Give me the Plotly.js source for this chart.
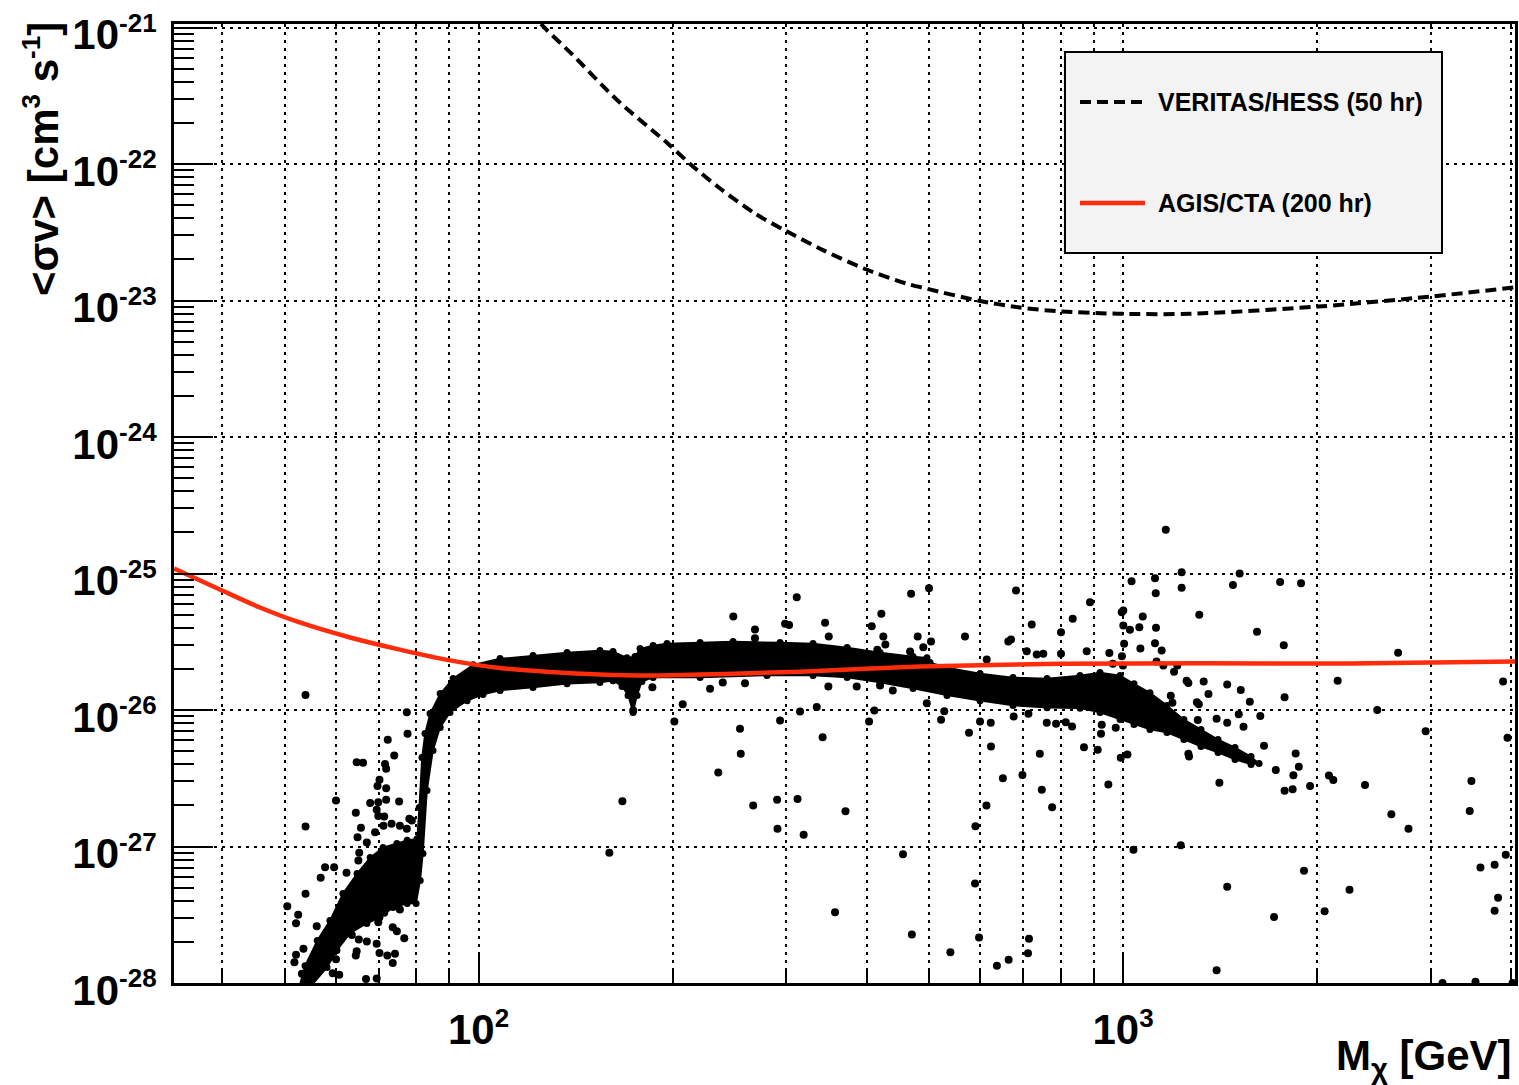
<!DOCTYPE html>
<html>
<head>
<meta charset="utf-8">
<script src="https://cdn.plot.ly/plotly-3.0.1.min.js"></script>
<style>
  html, body { margin: 0; padding: 0; background: #ffffff; }
  #chart { width: 1519px; height: 1085px; }
</style>
</head>
<body>
<div id="chart"></div>
<script>
// VERITAS/HESS 50 hr sensitivity (dashed black)
const vhMass  = [120.0, 126.4, 139.5, 164.4, 196.8, 213.6, 235.7, 268.5, 299, 343.7, 397, 461.6, 496.4, 595.3, 692, 790, 984, 1275, 2007, 3006, 4057];
const vhSigma = [1.33e-21, 1.005e-21, 6.41e-22, 2.92e-22, 1.41e-22, 9.9e-23, 6.76e-23, 4.34e-23, 3.26e-23, 2.32e-23, 1.71e-23, 1.33e-23, 1.22e-23, 1.0e-23, 8.89e-24, 8.36e-24, 8.0e-24, 8.0e-24, 9.03e-24, 1.07e-23, 1.25e-23];

// AGIS/CTA 200 hr sensitivity (solid red)
const agMass  = [33.7, 40.0, 45.8, 52.8, 63.2, 75.5, 90.3, 108.0, 129.1, 154.3, 184.6, 220.7, 263.8, 315.4, 484.2, 798.5, 1316.6, 2250, 4057];
const agSigma = [1.089e-25, 7.5e-26, 5.64e-26, 4.38e-26, 3.40e-26, 2.77e-26, 2.31e-26, 2.03e-26, 1.90e-26, 1.82e-26, 1.79e-26, 1.82e-26, 1.86e-26, 1.91e-26, 2.08e-26, 2.18e-26, 2.20e-26, 2.19e-26, 2.27e-26];

// Outline of the densely populated model region (lower edge left to right, then upper edge back)
const bandMass = [52.8, 54.8, 58.2, 60.3, 63.2, 67.1, 70.3, 73.7, 77.5, 80.0, 81.2, 82.0, 83.2, 85.0, 87.2, 90.3, 96.0, 101.6, 108.0, 121.5,
  137.2, 154.3, 161.7, 167.0, 170.6, 173.7, 176.2, 179.3, 186.6, 220.7, 280.3, 330.4, 373.2, 419.8, 472.3, 533.2, 600, 675.1, 762.4, 857.6,
  921.1, 989.5, 1040, 1101, 1170, 1243, 1321, 1404, 1492, 1580, 1626,
  1580, 1492, 1404, 1321, 1243, 1170, 1101, 1040, 989.5, 921.1, 857.6, 762.4, 675.1, 600, 533.2, 501.8, 496.4, 472.3, 419.8, 373.2,
  330.4, 293.7, 248.3, 220.7, 196.1, 186.6, 178.1, 174.9, 169.9, 161.7, 154.3, 137.2, 121.5, 108.0, 98.1, 91.3, 87.2, 84.1, 82.6, 81.7,
  80.9, 80.3, 77.5, 74.7, 71.1, 67.9, 64.8, 61.6, 58.8, 56.2, 53.8, 52.5];
const bandSigma = [8.8e-29, 9.3e-29, 1.30e-28, 1.73e-28, 2.31e-28, 2.73e-28, 3.02e-28, 3.57e-28, 3.82e-28, 3.82e-28, 5.64e-28, 8.89e-28, 2.57e-27, 5.05e-27, 7.44e-27, 9.59e-27, 1.17e-26, 1.30e-26, 1.39e-26, 1.46e-26,
  1.56e-26, 1.59e-26, 1.64e-26, 1.49e-26, 1.28e-26, 9.59e-27, 1.28e-26, 1.62e-26, 1.73e-26, 1.73e-26, 1.79e-26, 1.79e-26, 1.73e-26, 1.59e-26, 1.44e-26, 1.28e-26, 1.17e-26, 1.08e-26, 1.04e-26, 1.03e-26,
  9.59e-27, 8.52e-27, 7.83e-27, 7.20e-27, 6.84e-27, 6.08e-27, 5.40e-27, 4.88e-27, 4.34e-27, 3.99e-27, 4.06e-27,
  4.56e-27, 5.31e-27, 6.08e-27, 7.20e-27, 8.52e-27, 1.08e-26, 1.34e-26, 1.56e-26, 1.79e-26, 1.88e-26, 1.79e-26, 1.70e-26, 1.73e-26, 1.85e-26, 2.05e-26, 2.23e-26, 2.42e-26, 2.47e-26, 2.64e-26, 2.87e-26,
  3.07e-26, 3.12e-26, 3.18e-26, 3.12e-26, 3.07e-26, 2.97e-26, 2.82e-26, 2.47e-26, 2.42e-26, 2.68e-26, 2.73e-26, 2.64e-26, 2.51e-26, 2.38e-26, 2.15e-26, 1.70e-26, 1.32e-26, 9.42e-27, 6.73e-27, 4.49e-27,
  1.93e-27, 1.14e-27, 1.11e-27, 1.05e-27, 9.84e-28, 8.30e-28, 6.34e-28, 4.53e-28, 2.87e-28, 2.05e-28, 1.34e-28, 8.8e-29];

// Individual model points outside the dense region
const pointMass = [53.9, 77.4, 77.6, 72.3, 74.0, 64.7, 66.2, 71.6, 71.9, 70.2, 69.7, 71.9, 60.1, 67.9, 69.9, 71.9, 75.3, 64.5, 69.5, 69.9,
  71.4, 53.9, 65.7, 64.9, 69.1, 71.2, 73.3, 75.5, 77.4, 78.8, 67.1, 65.3, 65.1, 57.8, 59.7, 56.9, 62.4, 53.9, 50.5, 52.5,
  52.1, 56.1, 69.5, 71.4, 69.9, 73.6, 74.7, 76.7, 63.6, 65.2, 67.1, 69.5, 70.2, 72.2, 74.2, 73.6, 64.7, 64.5, 60.1, 52.1,
  51.8, 53.5, 59.4, 60.8, 66.9, 69.5, 53.2, 78.1, 75.5, 167.2, 159.6, 186.1, 207.4, 201.3, 228.7, 239.3, 248.5, 254.5, 255.2, 259.1,
  268.5, 268.5, 293.7, 299.0, 303.3, 311.7, 344.9, 349.5, 421.7, 407.5, 424.7, 427.8, 415.7, 469.0, 500.0, 480.2, 503.6, 489.9, 467.3, 568.6,
  614.5, 663.7, 670.1, 682.3, 721.7, 709.0, 734.7, 752.2, 801.3, 801.3, 835.5, 878.3, 888.8, 952.3, 995.5, 1001, 1001, 1025, 1031, 1060,
  1073, 1121, 1124, 1125, 1121, 1148, 1233, 1233, 1313, 1255, 1302, 1263, 1165, 1517, 1481, 1753, 1889, 1614, 1776, 2672,
  1004, 1064, 964.3, 996, 1000, 1127, 1155, 1214, 1200, 1263, 1334, 1357, 1451, 1523, 1573, 1633, 1186, 1193, 1311, 1306,
  1397, 1451, 1512, 1538, 1781, 2153, 2480, 2948, 3888, 3950, 1655, 1726, 1853, 1874, 1838, 1781, 1833, 1951, 2087, 2120,
  2374, 2608, 2773, 3472, 3451, 1266, 1411, 1038, 1229, 1451, 1715, 1909, 2055, 2246, 3586, 3772, 3925, 3819, 3772, 1397,
  3131, 3523, 4022, 235.5, 266.8, 290.6, 291.0, 312.6, 319.5, 315.4, 334.8, 341.9, 371.0, 357.4, 349.0, 386.2, 419.8, 439.3, 411.3, 403.6,
  455.6, 470.3, 539.7, 496.1, 522, 528, 576.8, 600, 623.4, 624.0, 651.0, 676.6, 698.2, 713.2, 742.8, 748.1, 761.5, 787.3, 815.0, 833.6,
  869.8, 913.5, 926.7, 924.4, 974.3, 948.9, 992.0, 1016, 590.2, 589.4, 597.9, 613.9, 637.3, 664.5, 776.2, 714.6, 712.1, 173.8];
const pointSigma = [1.29e-26, 9.64e-27, 6.69e-27, 6.05e-27, 4.64e-27, 4.15e-27, 4.10e-27, 4.03e-27, 3.71e-27, 3.08e-27, 2.77e-27, 2.67e-27, 2.17e-27, 2.08e-27, 2.11e-27, 2.20e-27, 2.14e-27, 1.77e-27, 1.86e-27, 1.67e-27,
  1.66e-27, 1.40e-27, 1.37e-27, 1.17e-27, 1.27e-27, 1.42e-27, 1.47e-27, 1.42e-27, 1.35e-27, 1.55e-27, 1.07e-27, 8.99e-28, 7.89e-28, 7.05e-28, 7.05e-28, 5.90e-28, 6.42e-28, 4.50e-28, 3.65e-28, 3.16e-28,
  2.74e-28, 2.61e-28, 3.80e-28, 3.27e-28, 2.79e-28, 2.56e-28, 2.39e-28, 2.13e-28, 2.25e-28, 2.08e-28, 2.01e-28, 1.94e-28, 1.66e-28, 1.59e-28, 1.64e-28, 1.40e-28, 1.71e-28, 1.59e-28, 1.49e-28, 1.61e-28,
  1.42e-28, 1.78e-28, 1.18e-28, 1.15e-28, 1.07e-28, 1.08e-28, 1.17e-28, 1.60e-27, 3.45e-28, 2.15e-27, 8.99e-28, 1.47e-26, 1.10e-26, 8.24e-27, 1.43e-26, 1.59e-26, 4.84e-26, 7.28e-27, 4.78e-27, 1.57e-26,
  3.89e-26, 3.36e-26, 8.38e-27, 4.28e-26, 4.19e-26, 6.70e-26, 4.35e-26, 3.45e-26, 5.07e-26, 4.11e-26, 3.45e-26, 3.02e-26, 2.76e-26, 7.10e-26, 7.80e-26, 3.45e-26, 3.18e-26, 2.88e-26, 2.68e-26, 3.45e-26,
  2.34e-26, 3.18e-26, 3.28e-26, 7.50e-26, 4.23e-26, 2.70e-26, 2.55e-26, 2.58e-26, 3.72e-26, 2.58e-26, 4.66e-26, 2.70e-26, 6.16e-26, 2.62e-26, 5.20e-26, 5.36e-26, 4.16e-26, 3.87e-26, 8.78e-26, 4.04e-26,
  4.84e-26, 9.24e-26, 7.17e-26, 4.00e-26, 3.09e-26, 2.73e-26, 1.02e-25, 7.86e-26, 4.98e-26, 1.64e-26, 1.14e-26, 4.78e-27, 2.09e-25, 1.00e-25, 8.23e-26, 8.66e-26, 8.48e-26, 3.74e-26, 2.98e-26, 2.63e-26,
  3.06e-26, 2.82e-26, 2.18e-26, 2.48e-26, 2.12e-26, 2.27e-26, 2.12e-26, 2.12e-26, 1.91e-26, 1.58e-26, 1.62e-26, 1.31e-26, 1.54e-26, 1.40e-26, 1.15e-26, 9.04e-27, 1.27e-26, 1.13e-26, 1.10e-26, 8.45e-27,
  8.64e-27, 8.07e-27, 9.30e-27, 7.53e-27, 1.24e-26, 1.64e-26, 1.00e-26, 7.00e-27, 1.62e-26, 6.25e-27, 5.48e-27, 3.64e-27, 4.81e-27, 3.84e-27, 3.33e-27, 2.56e-27, 2.63e-27, 2.78e-27, 3.31e-27, 3.07e-27,
  2.82e-27, 1.72e-27, 1.35e-27, 3.02e-27, 1.82e-27, 4.57e-27, 2.93e-27, 9.48e-28, 1.02e-27, 5.08e-28, 3.04e-28, 6.63e-28, 3.35e-28, 4.82e-28, 7.02e-28, 7.34e-28, 8.71e-28, 4.21e-28, 3.39e-28, 1.24e-28,
  1.0e-28, 1.02e-28, 1.0e-28, 3.48e-27, 2.00e-27, 2.20e-27, 1.35e-27, 2.23e-27, 1.22e-27, 9.75e-27, 1.05e-26, 6.31e-27, 1.81e-27, 3.30e-28, 1.49e-26, 1.49e-26, 1.51e-26, 1.39e-26, 9.92e-27, 8.24e-27,
  8.78e-28, 2.27e-28, 1.68e-28, 1.12e-26, 8.48e-27, 9.80e-27, 6.81e-27, 8.24e-27, 8.06e-27, 5.40e-27, 3.16e-27, 8.96e-27, 3.34e-27, 9.38e-27, 4.78e-27, 2.60e-27, 8.06e-27, 7.92e-27, 8.14e-27, 7.57e-27,
  5.34e-27, 5.11e-27, 7.79e-27, 6.69e-27, 7.41e-27, 2.85e-27, 4.47e-27, 4.72e-27, 1.41e-27, 5.36e-28, 2.15e-28, 2.00e-27, 1.34e-28, 1.48e-28, 1.94e-27, 2.11e-28, 1.65e-28, 9.9e-27];

// Axis tick labels
const xTickVals = [100, 1000];
const xTickText = ['10<sup><span style="font-size:26px">2</span></sup>', '10<sup><span style="font-size:26px">3</span></sup>'];
const yTickVals = [1e-28, 1e-27, 1e-26, 1e-25, 1e-24, 1e-23, 1e-22, 1e-21];
const yExponents = ['-28', '-27', '-26', '-25', '-24', '-23', '-22', '-21'];
const yTickText = yExponents.map(e => '10<sup><span style="font-size:26px">' + e + '</span></sup>');

// Series names
const seriesNames = ['VERITAS/HESS (50 hr)', 'AGIS/CTA (200 hr)'];

// minor tick positions: 2..9 inside every decade
function minorPositions(lo, hi) {
  const out = [];
  for (let e = lo; e < hi; e++) {
    for (let m = 2; m <= 9; m++) out.push(m * Math.pow(10, e));
  }
  return out;
}

const FONT = '"Liberation Sans", Arial, Helvetica, sans-serif';
const RED = '#fe2c0a';
const gridStyle = { showgrid: true, gridcolor: '#000000', gridwidth: 2, griddash: '2.5px,5.5px' };

const traces = [
  {
    type: 'scatter', mode: 'lines+markers', x: bandMass, y: bandSigma,
    fill: 'toself', fillcolor: '#000000',
    line: { color: '#000000', width: 1.5 },
    marker: { color: '#000000', size: 7, line: { width: 0 } },
    hoverinfo: 'skip', showlegend: false
  },
  {
    type: 'scatter', mode: 'markers', x: pointMass, y: pointSigma,
    marker: { color: '#000000', size: 8, line: { width: 0 } },
    showlegend: false
  },
  {
    type: 'scatter', mode: 'lines', name: seriesNames[1], x: agMass, y: agSigma,
    line: { color: RED, width: 4.5, shape: 'spline', smoothing: 0.8 },
    showlegend: false
  },
  {
    type: 'scatter', mode: 'lines', name: seriesNames[0], x: vhMass, y: vhSigma,
    line: { color: '#000000', width: 4, dash: '11px,6px', shape: 'spline', smoothing: 0.8 },
    showlegend: false
  }
];

// plot area: left 174, right 1515, top 24, bottom 983
const PL = 174, PR = 1515, PT = 24, PB = 983;
const px = v => (v - PL) / (PR - PL);
const py = v => (PB - v) / (PB - PT);

const layout = {
  width: 1519, height: 1085,
  margin: { l: PL, r: 1519 - PR, t: PT, b: 1085 - PB, autoexpand: false },
  paper_bgcolor: '#ffffff', plot_bgcolor: '#ffffff',
  showlegend: false,
  font: { family: FONT, color: '#000000' },
  xaxis: Object.assign({
    type: 'log', range: [1.5275, 3.6082],
    tickmode: 'array', tickvals: xTickVals, ticktext: xTickText,
    ticks: 'inside', ticklen: 30, tickwidth: 2, tickcolor: '#000000',
    tickfont: { family: FONT, size: 42, weight: 'bold', color: '#000000' },
    ticklabelstandoff: 8, ticklabeloverflow: 'allow',
    showline: true, linewidth: 3, linecolor: '#000000', mirror: true,
    zeroline: false,
    minor: Object.assign({
      tickmode: 'array', tickvals: minorPositions(1, 4),
      ticks: 'inside', ticklen: 14, tickwidth: 2, tickcolor: '#000000'
    }, gridStyle)
  }, gridStyle),
  yaxis: Object.assign({
    type: 'log', range: [-28, -20.974],
    tickmode: 'array', tickvals: yTickVals, ticktext: yTickText,
    ticks: 'inside', ticklen: 39, tickwidth: 2, tickcolor: '#000000',
    tickfont: { family: FONT, size: 42, weight: 'bold', color: '#000000' },
    ticklabelstandoff: 6, ticklabelshift: 7, ticklabeloverflow: 'allow',
    showline: true, linewidth: 3, linecolor: '#000000', mirror: true,
    zeroline: false,
    minor: {
      tickmode: 'array', tickvals: minorPositions(-28, -21),
      ticks: 'inside', ticklen: 20, tickwidth: 2, tickcolor: '#000000', showgrid: false
    }
  }, gridStyle),
  shapes: [
    // legend frame
    { type: 'rect', xref: 'paper', yref: 'paper', x0: px(1065), x1: px(1442), y0: py(253), y1: py(52),
      fillcolor: '#f3f3f3', line: { color: '#000000', width: 2 }, layer: 'above' },
    { type: 'line', xref: 'paper', yref: 'paper', x0: px(1080), x1: px(1143), y0: py(102), y1: py(102),
      line: { color: '#000000', width: 4, dash: '11px,6px' }, layer: 'above' },
    { type: 'line', xref: 'paper', yref: 'paper', x0: px(1080), x1: px(1145), y0: py(203), y1: py(203),
      line: { color: RED, width: 4.5 }, layer: 'above' }
  ],
  annotations: [
    { xref: 'paper', yref: 'paper', x: px(1156), y: py(102), xanchor: 'left', yanchor: 'middle',
      text: '<b>' + seriesNames[0] + '</b>', showarrow: false, font: { family: FONT, size: 25, color: '#000000' } },
    { xref: 'paper', yref: 'paper', x: px(1156), y: py(203), xanchor: 'left', yanchor: 'middle',
      text: '<b>' + seriesNames[1] + '</b>', showarrow: false, font: { family: FONT, size: 25, color: '#000000' } },
    // axis titles
    { xref: 'paper', yref: 'paper', x: px(41), y: py(20), xanchor: 'center', yanchor: 'top', textangle: -90,
      text: '<b>&lt;σv&gt; [cm<sup><span style="font-size:26px">3</span></sup> s<sup><span style="font-size:26px">-1</span></sup>]</b>',
      showarrow: false, font: { family: FONT, size: 42, color: '#000000' } },
    { xref: 'paper', yref: 'paper', x: px(1514), y: py(1030), xanchor: 'right', yanchor: 'top',
      text: '<b>M<sub>χ</sub> [GeV]</b>', showarrow: false,
      font: { family: FONT, size: 42, color: '#000000' } }
  ]
};

Plotly.newPlot('chart', traces, layout, { staticPlot: true, displayModeBar: false });
</script>
</body>
</html>
